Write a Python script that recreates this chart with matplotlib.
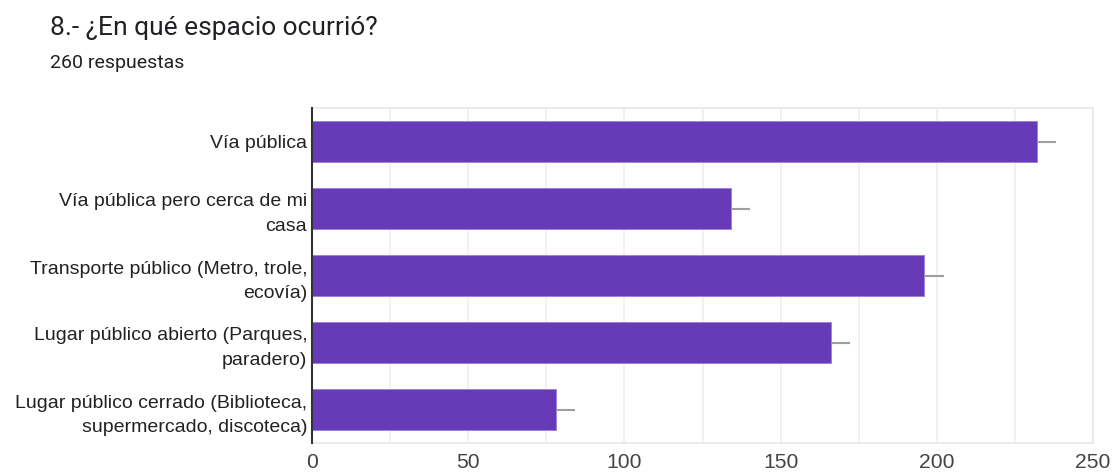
import matplotlib
matplotlib.use("Agg")
import matplotlib.pyplot as plt
import numpy as np

categories = [
    "Vía pública",
    "Vía pública pero cerca de mi\ncasa",
    "Transporte público (Metro, trole,\necovía)",
    "Lugar público abierto (Parques,\nparadero)",
    "Lugar público cerrado (Biblioteca,\nsupermercado, discoteca)",
]
values = [232, 134, 196, 166, 78]
err_plus = [6.3, 6.3, 6.3, 6.3, 6.3]
xticks = [0, 50, 100, 150, 200, 250]

title = "8.- ¿En qué espacio ocurrió?"
subtitle = "260 respuestas"

W, H = 1112, 474
fig = plt.figure(figsize=(W / 100, H / 100), dpi=100)
ax = fig.add_axes([312 / W, 1 - 443 / H, (1093 - 312) / W, (443 - 108) / H])

y = np.arange(len(categories))
ax.barh(y, values, height=0.61, color="#673ab7", edgecolor="#9c7fd6",
        linewidth=0.6, zorder=3)
ax.errorbar(values, y, xerr=[[0] * len(values), err_plus], fmt="none",
            ecolor="#9e9e9e", elinewidth=1.5, capsize=0, zorder=4)

ax.set_xlim(0, 250)
ax.set_ylim(len(categories) - 0.5, -0.5)
ax.set_yticks(y)
ax.set_yticklabels(categories, fontsize=14.0, family=["Liberation Sans", "DejaVu Sans"],
                   color="#222222", multialignment="right")
for lbl in ax.get_yticklabels():
    lbl.set_linespacing(1.55)
ax.set_xticks(xticks)
ax.set_xticklabels([str(t) for t in xticks], fontsize=15.2,
                   family=["Liberation Sans", "DejaVu Sans"], color="#444444")
ax.set_xticks(np.arange(0, 251, 25), minor=True)
ax.tick_params(axis="y", length=0, pad=3.5)
ax.tick_params(axis="x", which="both", length=0, pad=7)
ax.grid(axis="x", which="both", color="#efefef", linewidth=1.2, zorder=0)

for s in ["top", "right", "bottom"]:
    ax.spines[s].set_color("#e8e8e8")
    ax.spines[s].set_linewidth(1.2)
ax.spines["left"].set_color("#333333")
ax.spines["left"].set_linewidth(1.5)
ax.spines["left"].set_zorder(5)

fig.text(50 / W, 1 - 35 / H, title, fontsize=19, family=["Roboto", "DejaVu Sans"],
         color="#202124", ha="left", va="baseline")
fig.text(50 / W, 1 - 68 / H, subtitle, fontsize=14, family=["Roboto", "DejaVu Sans"],
         color="#202124", ha="left", va="baseline")

fig.savefig("out.png", dpi=100, facecolor="white")
